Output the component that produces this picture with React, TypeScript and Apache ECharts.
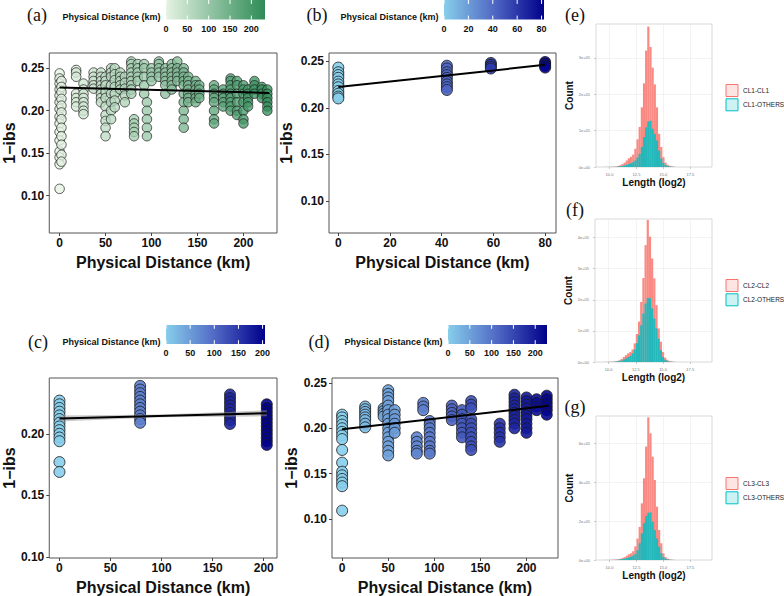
import React, { useEffect, useRef } from "react";
import * as echarts from "echarts";

// ---------------- data: scatter panels ----------------
// (a) distance sites (km) and 1-ibs values at each site
const aSites = [0, 2, 18, 26, 37, 45, 50, 56, 60, 66, 71, 78, 81, 85, 92, 95, 100, 108, 115, 122, 128, 135, 140, 148, 152, 168, 178, 186, 193, 200, 205, 212, 220, 226];
const aValues = [
  [0.244, 0.238, 0.232, 0.225, 0.218, 0.21, 0.202, 0.193, 0.185, 0.175, 0.165, 0.152, 0.145, 0.137, 0.108],
  [0.235, 0.228, 0.222, 0.214, 0.206, 0.198, 0.19, 0.18, 0.17, 0.16, 0.148, 0.14],
  [0.248, 0.245, 0.24, 0.22, 0.215, 0.21, 0.205],
  [0.232, 0.225, 0.22, 0.215, 0.21, 0.205, 0.2, 0.196],
  [0.245, 0.24, 0.235, 0.23, 0.226],
  [0.245, 0.24, 0.235, 0.23, 0.225, 0.22, 0.215, 0.21],
  [0.24, 0.235, 0.23, 0.222, 0.215, 0.205, 0.195, 0.188, 0.18, 0.17],
  [0.25, 0.245, 0.24, 0.23, 0.22, 0.21, 0.2, 0.19],
  [0.25, 0.243, 0.236, 0.228, 0.22, 0.212, 0.204],
  [0.245, 0.24, 0.235, 0.23, 0.225],
  [0.24, 0.233, 0.226, 0.218, 0.21],
  [0.258, 0.255, 0.25, 0.245, 0.24, 0.235, 0.23, 0.225, 0.22],
  [0.19, 0.185, 0.18, 0.175, 0.17],
  [0.255, 0.25, 0.245, 0.24, 0.235],
  [0.255, 0.25, 0.24, 0.23, 0.22],
  [0.21, 0.2, 0.19, 0.18, 0.17],
  [0.25, 0.245, 0.24, 0.235],
  [0.258, 0.255, 0.25, 0.245, 0.24],
  [0.25, 0.245, 0.24, 0.235, 0.23, 0.22],
  [0.255, 0.25, 0.245, 0.24, 0.235, 0.23, 0.225],
  [0.258, 0.25, 0.245, 0.24, 0.235],
  [0.25, 0.245, 0.24, 0.235, 0.23, 0.22, 0.21, 0.2, 0.19, 0.18],
  [0.24, 0.235, 0.23, 0.225, 0.22, 0.215, 0.21],
  [0.235, 0.23, 0.225, 0.22, 0.215, 0.21],
  [0.23, 0.225, 0.22, 0.215],
  [0.23, 0.225, 0.22, 0.215, 0.21, 0.2, 0.19, 0.185],
  [0.225, 0.22, 0.215, 0.21, 0.205],
  [0.238, 0.235, 0.23, 0.225, 0.22, 0.215, 0.21, 0.205, 0.2],
  [0.235, 0.23, 0.22, 0.21, 0.2, 0.195],
  [0.23, 0.225, 0.22, 0.21, 0.2, 0.19, 0.185],
  [0.225, 0.22, 0.215, 0.21, 0.205],
  [0.235, 0.23, 0.225, 0.22],
  [0.228, 0.225, 0.22, 0.215],
  [0.225, 0.22, 0.215, 0.21, 0.205, 0.2],
];
const aFitX = [0, 228];
const aFitY = [0.2275, 0.221];

// (b)
const bSites = [0, 42, 59, 80];
const bValues = [
  [0.243, 0.238, 0.235, 0.232, 0.228, 0.225, 0.222, 0.218, 0.215, 0.212, 0.21],
  [0.245, 0.242, 0.238, 0.235, 0.232, 0.228, 0.225, 0.222, 0.219],
  [0.248, 0.246, 0.244, 0.242],
  [0.249, 0.247, 0.245, 0.243],
];
const bFitX = [0, 80];
const bFitY = [0.2222, 0.2459];

// (c)
const cSites = [0, 79, 167, 203];
const cValues = [
  [0.227, 0.224, 0.221, 0.218, 0.215, 0.212, 0.209, 0.206, 0.203, 0.2, 0.197, 0.194, 0.177, 0.169],
  [0.239, 0.236, 0.233, 0.23, 0.227, 0.224, 0.221, 0.218, 0.215, 0.212, 0.209],
  [0.232, 0.229, 0.226, 0.223, 0.22, 0.217, 0.214, 0.211, 0.208],
  [0.224, 0.221, 0.218, 0.215, 0.212, 0.209, 0.206, 0.203, 0.2, 0.197, 0.194, 0.191],
];
const cFitX = [0, 203];
const cFitY = [0.2125, 0.2167];
const cBandX = [0, 100, 203];
const cBandLow = [0.2100, 0.2134, 0.2142];
const cBandHigh = [0.2150, 0.2158, 0.2192];

// (d)
const dSites = [0, 25, 45, 50, 57, 81, 88, 95, 119, 130, 140, 171, 187, 200, 211, 222];
const dValues = [
  [0.215, 0.212, 0.208, 0.204, 0.2, 0.196, 0.192, 0.188, 0.176, 0.162, 0.152, 0.148, 0.144, 0.14, 0.136, 0.109],
  [0.224, 0.221, 0.218, 0.215, 0.212, 0.209, 0.205, 0.201],
  [0.222, 0.219, 0.216, 0.213],
  [0.242, 0.238, 0.234, 0.23, 0.225, 0.22, 0.215, 0.21, 0.205, 0.2, 0.195, 0.19, 0.185, 0.18, 0.175, 0.17],
  [0.22, 0.215, 0.21, 0.205, 0.2, 0.195],
  [0.19, 0.185, 0.18, 0.175, 0.172],
  [0.228, 0.224, 0.22],
  [0.208, 0.204, 0.2, 0.195, 0.19, 0.185, 0.18, 0.175, 0.172],
  [0.225, 0.221, 0.217, 0.213, 0.209],
  [0.22, 0.215, 0.21, 0.205, 0.2, 0.195, 0.19],
  [0.23, 0.226, 0.222, 0.21, 0.205, 0.2, 0.195, 0.19, 0.185, 0.18, 0.176],
  [0.205, 0.2, 0.195, 0.19, 0.185],
  [0.237, 0.233, 0.229, 0.225, 0.221, 0.217, 0.213, 0.209, 0.205, 0.2],
  [0.234, 0.23, 0.226, 0.222, 0.218, 0.214, 0.21, 0.205, 0.2, 0.195],
  [0.232, 0.228, 0.224, 0.22],
  [0.236, 0.232, 0.228, 0.224, 0.22, 0.215],
];
const dFitX = [0, 224];
const dFitY = [0.199, 0.2248];

// colourbar tick labels
const aBreaks = [0, 50, 100, 150, 200];
const bBreaks = [0, 20, 40, 60, 80];
const cBreaks = [0, 50, 100, 150, 200];
const dBreaks = [0, 50, 100, 150, 200];

// ---------------- data: histograms ----------------
const lenBins = [9.6, 9.8, 10.0, 10.2, 10.4, 10.6, 10.8, 11.0, 11.2, 11.4, 11.6, 11.8, 12.0, 12.2, 12.4, 12.6, 12.8, 13.0, 13.2, 13.4, 13.6, 13.8, 14.0, 14.2, 14.4, 14.6, 14.8, 15.0, 15.2, 15.4, 15.6, 15.8, 16.0];
const eSame = [200, 300, 400, 600, 800, 1200, 2500, 5000, 8000, 12000, 18000, 24000, 28000, 34000, 50000, 76000, 110000, 164000, 230000, 320000, 386000, 330000, 273000, 227000, 164000, 91000, 55000, 27000, 12000, 6000, 3000, 1500, 600];
const eOthers = [100, 100, 200, 300, 400, 600, 1200, 2000, 3000, 4500, 6000, 8000, 10000, 13000, 18000, 26000, 36000, 55000, 82000, 109000, 125000, 127000, 105000, 91000, 73000, 45000, 23000, 11000, 5000, 2500, 1000, 500, 200];
const fSame = [200, 300, 500, 700, 1000, 1500, 3000, 6000, 10000, 16000, 22000, 28000, 32000, 40000, 60000, 90000, 130000, 193000, 270000, 376000, 457000, 403000, 333000, 269000, 183000, 108000, 65000, 32000, 14000, 7000, 3000, 1500, 600];
const fOthers = [100, 200, 300, 400, 600, 1000, 2000, 3000, 5000, 8000, 12000, 16000, 20000, 28000, 40000, 60000, 86000, 118000, 156000, 188000, 206000, 205000, 172000, 140000, 108000, 75000, 38000, 16000, 7000, 3000, 1000, 500, 200];
const gSame = [300, 400, 600, 900, 1300, 2000, 3500, 6000, 10000, 15000, 22000, 29000, 34000, 45000, 70000, 110000, 170000, 291000, 420000, 583000, 733000, 651000, 531000, 411000, 274000, 154000, 86000, 34000, 15000, 7000, 3000, 1500, 600];
const gOthers = [100, 200, 300, 400, 600, 1000, 1800, 3000, 5000, 7000, 10000, 13000, 17000, 22000, 30000, 50000, 86000, 137000, 189000, 226000, 243000, 245000, 197000, 154000, 111000, 69000, 34000, 15000, 6000, 3000, 1000, 500, 200];

const FONT = "'Liberation Sans', Arial, Helvetica, sans-serif";
const SERIF = "'Liberation Serif', 'Times New Roman', serif";
const GREENS = ["#E5F3E2", "#2E8B57"];
const BLUES = ["#87CEEB", "#5068C4", "#00008B"];
const RED = "#F8766D";
const CYAN = "#00BFC4";

function toPoints(sites: number[], values: number[][]) {
  const pts: number[][] = [];
  sites.forEach((x, i) => values[i].forEach((y) => pts.push([x, y])));
  return pts;
}

function scatterX(gi: number, min: number, max: number, ticks: number[]) {
  return {
    gridIndex: gi, type: "value", min, max,
    axisLine: { show: false, onZero: false }, splitLine: { show: false },
    axisTick: { show: true, length: 3, customValues: ticks, lineStyle: { color: "#444", width: 1 } },
    axisLabel: { customValues: ticks, fontSize: 12, fontWeight: "bold", color: "#111", fontFamily: FONT, margin: 4, formatter: (v: number) => String(v) },
    name: "Physical Distance (km)", nameLocation: "middle", nameGap: 21,
    nameTextStyle: { fontSize: 16, fontWeight: "bold", color: "#111", fontFamily: FONT },
  };
}
function scatterY(gi: number, min: number, max: number, ticks: number[], gap: number) {
  return {
    gridIndex: gi, type: "value", min, max,
    axisLine: { show: false, onZero: false }, splitLine: { show: false },
    axisTick: { show: true, length: 3, customValues: ticks, lineStyle: { color: "#444", width: 1 } },
    axisLabel: { customValues: ticks, fontSize: 12, fontWeight: "bold", color: "#111", fontFamily: FONT, margin: 5, formatter: (v: number) => v.toFixed(2) },
    name: "1\u2212ibs", nameLocation: "middle", nameGap: gap,
    nameTextStyle: { fontSize: 16, fontWeight: "bold", color: "#111", fontFamily: FONT },
  };
}
function histX(gi: number) {
  return {
    gridIndex: gi, type: "value", min: 8.75, max: 19.5, interval: 1.25,
    axisLine: { show: false, onZero: false },
    axisTick: { show: true, length: 2, customValues: [10, 12.5, 15, 17.5], lineStyle: { color: "#999", width: 0.5 } },
    axisLabel: { customValues: [10, 12.5, 15, 17.5], fontSize: 4, color: "#777", fontFamily: FONT, margin: 5, formatter: (v: number) => v.toFixed(1) },
    splitLine: { show: true, lineStyle: { color: "#EBEBEB", width: 0.6 } },
    name: "Length (log2)", nameLocation: "middle", nameGap: 10,
    nameTextStyle: { fontSize: 10, fontWeight: "bold", color: "#111", fontFamily: FONT },
  };
}
function histY(gi: number, max: number, interval: number, labels: number[]) {
  return {
    gridIndex: gi, type: "value", min: 0, max, interval,
    axisLine: { show: false, onZero: false },
    axisTick: { show: true, length: 2, customValues: labels, lineStyle: { color: "#999", width: 0.5 } },
    axisLabel: {
      customValues: labels, fontSize: 4, color: "#777", fontFamily: FONT, margin: 6,
      formatter: (v: number) => (v === 0 ? "0e+00" : `${Math.round(v / 100000)}e+05`),
    },
    splitLine: { show: true, lineStyle: { color: "#EBEBEB", width: 0.6 } },
    name: "Count", nameLocation: "middle", nameGap: 19,
    nameTextStyle: { fontSize: 10, fontWeight: "bold", color: "#111", fontFamily: FONT },
  };
}

function colorbar(x: number, y: number, w: number, h: number, range: number[], breaks: number[], colors: string[]) {
  const els: any[] = [];
  const stops = colors.map((c, i) => ({ offset: i / (colors.length - 1), color: c }));
  els.push({ type: "rect", shape: { x, y, width: w, height: h }, style: { fill: new echarts.graphic.LinearGradient(0, 0, 1, 0, stops) } });
  breaks.forEach((b) => {
    const px = x + ((b - range[0]) / (range[1] - range[0])) * w;
    els.push({ type: "line", shape: { x1: px, y1: y, x2: px, y2: y + h / 5 }, style: { stroke: "#fff", lineWidth: 1 } });
    els.push({ type: "line", shape: { x1: px, y1: y + h - h / 5, x2: px, y2: y + h }, style: { stroke: "#fff", lineWidth: 1 } });
    els.push({
      type: "text", x: px, y: y + h + 9,
      style: { text: String(b), fontSize: 9, fontWeight: "bold", fontFamily: FONT, fill: "#111", align: "center", verticalAlign: "middle", textAlign: "center", textVerticalAlign: "middle" },
    });
  });
  els.push({
    type: "text", x: x - 5.5, y: y + h - 2.5,
    style: { text: "Physical Distance (km)", fontSize: 9, fontWeight: "bold", fontFamily: FONT, fill: "#111", align: "right", verticalAlign: "middle", textAlign: "right", textVerticalAlign: "middle" },
  });
  return els;
}
function panelLabel(t: string, x: number, y: number) {
  return {
    type: "text", x, y,
    style: { text: t, fontSize: 18, fontFamily: SERIF, fill: "#111", align: "center", verticalAlign: "middle", textAlign: "center", textVerticalAlign: "middle" },
  };
}
function legend(x: number, y: number, names: string[]) {
  const els: any[] = [];
  [RED, CYAN].forEach((c, i) => {
    const yy = y + i * 14.3;
    els.push({ type: "rect", shape: { x, y: yy, width: 12, height: 12 }, style: { fill: c, opacity: 0.2 } });
    els.push({ type: "rect", shape: { x, y: yy, width: 12, height: 12 }, style: { fill: "none", stroke: c, lineWidth: 1 } });
    els.push({
      type: "text", x: x + 17, y: yy + 6,
      style: { text: names[i], fontSize: 6.5, fontFamily: FONT, fill: "#222", align: "left", verticalAlign: "middle", textAlign: "left", textVerticalAlign: "middle" },
    });
  });
  return els;
}

function buildOption() {
  const grids = [
    { left: 49, top: 53, width: 228, height: 180, show: true, borderColor: "#555", borderWidth: 1 },
    { left: 329, top: 53, width: 227, height: 180, show: true, borderColor: "#555", borderWidth: 1 },
    { left: 49, top: 378, width: 228, height: 180, show: true, borderColor: "#555", borderWidth: 1 },
    { left: 332, top: 378, width: 226, height: 180, show: true, borderColor: "#555", borderWidth: 1 },
    { left: 596, top: 24, width: 116, height: 143, show: true, borderColor: "#CFCFCF", borderWidth: 0.8 },
    { left: 595, top: 219, width: 117, height: 143, show: true, borderColor: "#CFCFCF", borderWidth: 0.8 },
    { left: 596, top: 416, width: 116, height: 144, show: true, borderColor: "#CFCFCF", borderWidth: 0.8 },
  ];
  const xAxis = [
    scatterX(0, -11.25, 236.5, [0, 50, 100, 150, 200]),
    scatterX(1, -3.6, 84.2, [0, 20, 40, 60, 80]),
    scatterX(2, -10, 213, [0, 50, 100, 150, 200]),
    scatterX(3, -11, 234.2, [0, 50, 100, 150, 200]),
    histX(4), histX(5), histX(6),
  ];
  const yAxis = [
    scatterY(0, 0.056, 0.268, [0.1, 0.15, 0.2, 0.25], 29),
    scatterY(1, 0.066, 0.2586, [0.1, 0.15, 0.2, 0.25], 35),
    scatterY(2, 0.099, 0.2454, [0.1, 0.15, 0.2], 30),
    scatterY(3, 0.0567, 0.2555, [0.1, 0.15, 0.2, 0.25], 32),
    histY(4, 393000, 50000, [0, 100000, 200000, 300000]),
    histY(5, 460000, 50000, [0, 100000, 200000, 300000, 400000]),
    histY(6, 740000, 100000, [0, 200000, 400000, 600000]),
  ];

  const series: any[] = [];
  const visualMap: any[] = [];
  const scatterPanels = [
    { sites: aSites, values: aValues, fx: aFitX, fy: aFitY, size: 9.5, colors: GREENS, max: 232, op: 0.78 },
    { sites: bSites, values: bValues, fx: bFitX, fy: bFitY, size: 11, colors: BLUES, max: 82, op: 0.9 },
    { sites: cSites, values: cValues, fx: cFitX, fy: cFitY, size: 11, colors: BLUES, max: 205, op: 0.9 },
    { sites: dSites, values: dValues, fx: dFitX, fy: dFitY, size: 11, colors: BLUES, max: 227, op: 0.9 },
  ];
  scatterPanels.forEach((p, i) => {
    visualMap.push({
      type: "continuous", show: false, seriesIndex: series.length, dimension: 0,
      min: 0, max: p.max, inRange: { color: p.colors },
    });
    series.push({
      type: "scatter", xAxisIndex: i, yAxisIndex: i, data: toPoints(p.sites, p.values),
      symbolSize: p.size, itemStyle: { borderColor: "#1a1a1a", borderWidth: 0.9, opacity: p.op }, z: 2, silent: true,
    });
    if (i === 2) {
      series.push({
        type: "custom", xAxisIndex: 2, yAxisIndex: 2, z: 4, silent: true,
        data: cBandX.map((x, k) => [x, cBandLow[k], cBandHigh[k]]),
        renderItem: (params: any, api: any) => {
          if (params.dataIndex !== 0) return null;
          const up = cBandX.map((x, k) => api.coord([x, cBandHigh[k]]));
          const lo = cBandX.map((x, k) => api.coord([x, cBandLow[k]])).reverse();
          return { type: "polygon", shape: { points: up.concat(lo) }, style: { fill: "rgba(150,150,150,0.5)" } };
        },
      });
    }
    series.push({
      type: "line", xAxisIndex: i, yAxisIndex: i, data: p.fx.map((x, k) => [x, p.fy[k]]),
      symbol: "none", lineStyle: { color: "#000", width: 2 }, z: 5, silent: true,
    });
  });

  const hists = [
    { same: eSame, others: eOthers },
    { same: fSame, others: fOthers },
    { same: gSame, others: gOthers },
  ];
  hists.forEach((h, k) => {
    const gi = 4 + k;
    series.push({
      type: "bar", xAxisIndex: gi, yAxisIndex: gi, data: lenBins.map((x, j) => [x, h.same[j]]),
      barWidth: 2.2, barGap: "-100%", itemStyle: { color: RED, opacity: 0.85 }, z: 2, silent: true,
    });
    series.push({
      type: "bar", xAxisIndex: gi, yAxisIndex: gi, data: lenBins.map((x, j) => [x, h.others[j]]),
      barWidth: 2.2, barGap: "-100%", itemStyle: { color: CYAN, opacity: 0.85 }, z: 3, silent: true,
    });
  });

  const graphic: any[] = [
    panelLabel("(a)", 37, 15),
    panelLabel("(b)", 317, 15),
    panelLabel("(c)", 38, 342),
    panelLabel("(d)", 319, 342),
    panelLabel("(e)", 575, 15),
    panelLabel("(f)", 575, 210),
    panelLabel("(g)", 575, 407),
    ...colorbar(166, 0, 99, 19.5, [0, 232], aBreaks, GREENS),
    ...colorbar(444, 0, 100, 19.5, [0, 82], bBreaks, BLUES),
    ...colorbar(166, 325, 99, 19, [0, 205], cBreaks, BLUES),
    ...colorbar(448, 325, 99, 19, [0, 227], dBreaks, BLUES),
    ...legend(726, 84.5, ["CL1-CL1", "CL1-OTHERS"]),
    ...legend(726, 279.5, ["CL2-CL2", "CL2-OTHERS"]),
    ...legend(726, 477.5, ["CL3-CL3", "CL3-OTHERS"]),
  ];

  return {
    animation: false,
    backgroundColor: "#fff",
    textStyle: { fontFamily: FONT },
    grid: grids,
    xAxis,
    yAxis,
    visualMap,
    series,
    graphic,
  };
}

export default function App() {
  const ref = useRef<HTMLDivElement>(null);
  useEffect(() => {
    if (!ref.current) return;
    const chart = echarts.init(ref.current, undefined, { renderer: "svg" });
    chart.setOption(buildOption() as any);
    return () => chart.dispose();
  }, []);
  return <div ref={ref} style={{ position: "absolute", left: 0, top: 0, width: 784, height: 596 }} />;
}
